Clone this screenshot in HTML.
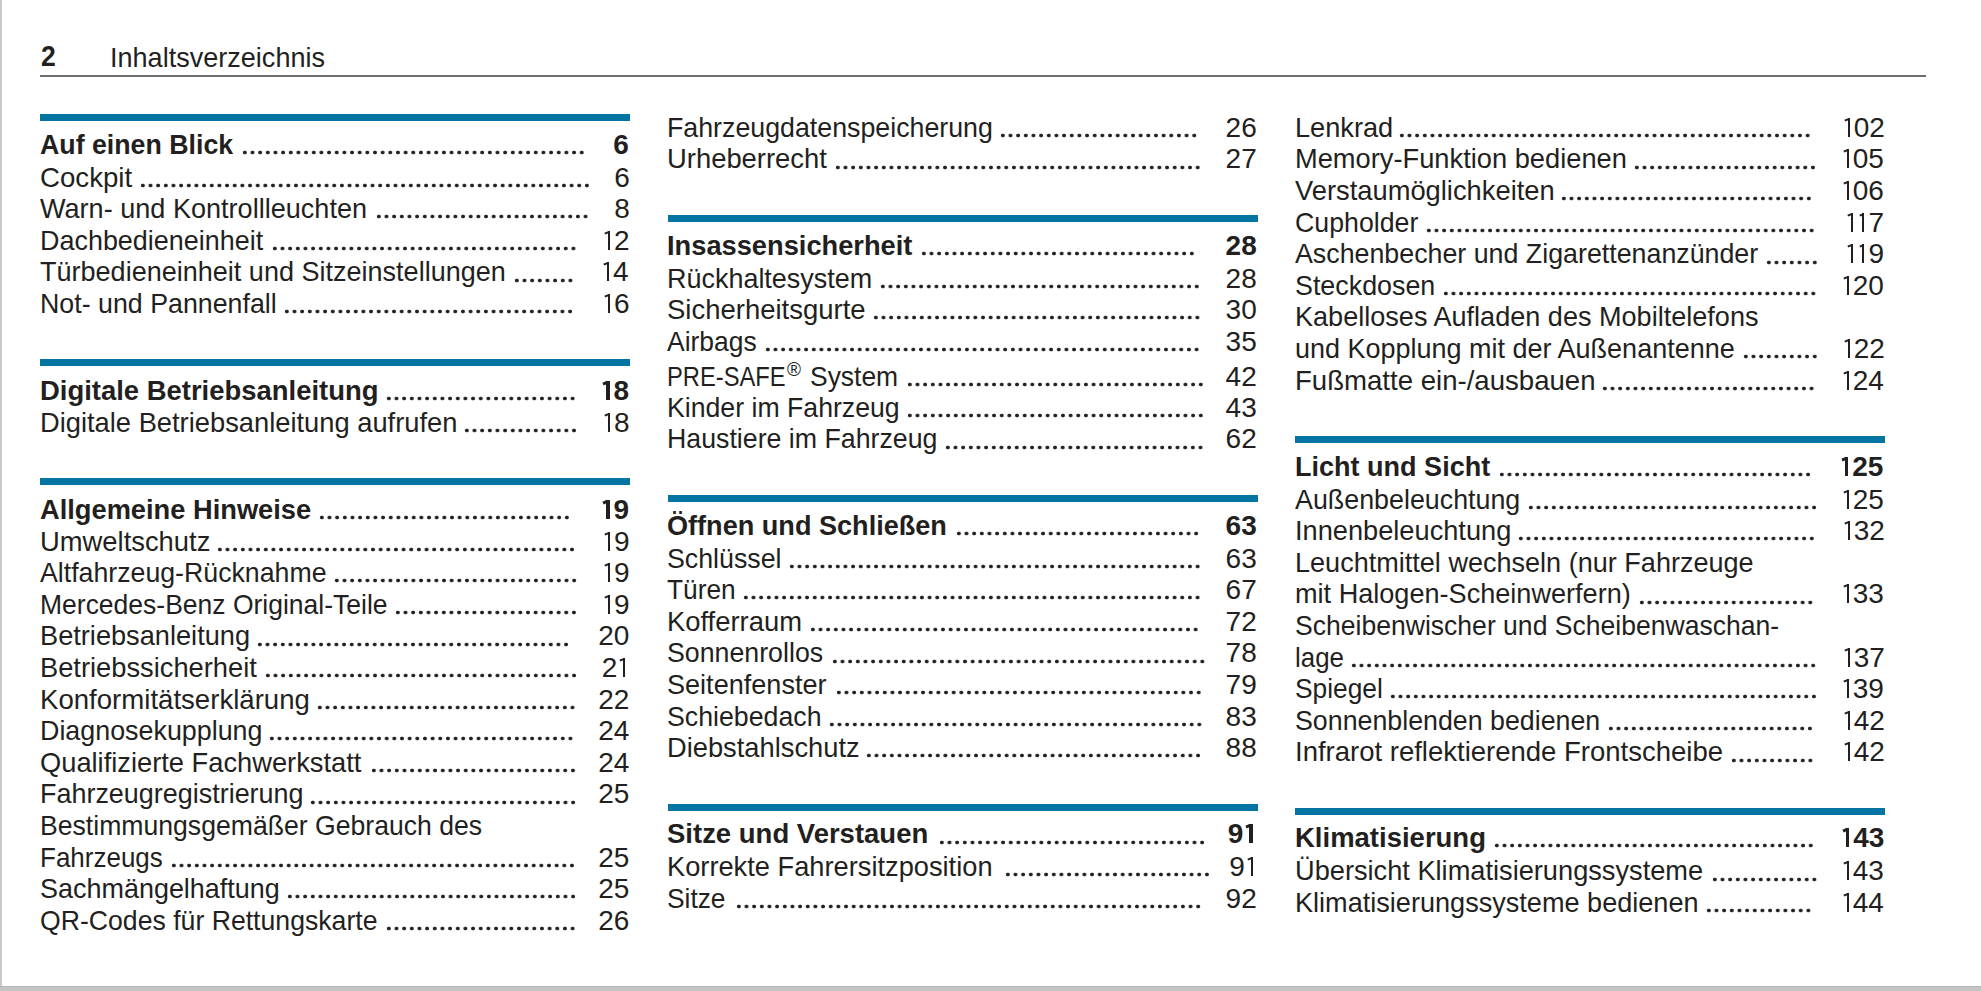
<!DOCTYPE html><html><head><meta charset="utf-8"><title>Inhaltsverzeichnis</title><style>
html,body{margin:0;padding:0}
body{width:1981px;height:991px;position:relative;overflow:hidden;background:#fff;font-family:"Liberation Sans",sans-serif;color:#231f20}
.t,.n{position:absolute;font-size:28px;line-height:28px;white-space:pre;transform-origin:0 0}
.n{transform-origin:100% 0}
.b{font-weight:bold}
.one{display:inline-block;position:relative;width:11.8px;height:19.5px}
.one::before{content:"";position:absolute;left:5.7px;top:0;width:2px;height:19.5px;background:#231f20}
.one::after{content:"";position:absolute;left:1.9px;top:0.6px;width:4.4px;height:1.9px;background:#231f20;transform:rotate(-24deg);transform-origin:100% 0}
.b .one{width:13.3px}
.b .one::before{left:5.5px;width:3.9px}
.b .one::after{left:1.5px;width:4.6px;height:2.9px;top:0.2px}
.reg{font-size:19px;position:relative;top:-10px;margin-left:-1px;margin-right:0px}
.bar{position:absolute;height:7px;width:590px;background:#0474a2}
.ld{position:absolute;height:5px;background-image:radial-gradient(circle at 50% 50%,#231f20 0,#231f20 1.55px,rgba(35,31,32,0) 2.2px);background-size:7.660px 5px;background-repeat:repeat-x;background-position:0 0}
</style></head><body>
<div style="position:absolute;left:0;top:0;width:2px;height:991px;background:#c9c9c9"></div>
<div style="position:absolute;left:0;top:986px;width:1981px;height:5px;background:#c4c4c4"></div>
<div style="position:absolute;left:0;top:986px;width:1981px;height:1px;background:#b4b4b4"></div>
<div class="t b" style="left:41px;top:42px;font-size:29.5px;transform:scaleX(0.9)">2</div>
<div class="t" id="hdr" style="left:109.6px;top:44px;transform:scaleX(0.9662)">Inhaltsverzeichnis</div>
<div style="position:absolute;left:40px;top:75px;width:1886px;height:2px;background:#6e6e6e"></div>
<div class="bar" style="left:40.0px;top:114.0px"></div>
<div class="bar" style="left:40.0px;top:359.3px"></div>
<div class="bar" style="left:40.0px;top:478.3px"></div>
<div class="bar" style="left:667.5px;top:215.0px"></div>
<div class="bar" style="left:667.5px;top:495.0px"></div>
<div class="bar" style="left:667.5px;top:803.5px"></div>
<div class="bar" style="left:1295.3px;top:436.0px"></div>
<div class="bar" style="left:1295.3px;top:807.9px"></div>
<div class="t b" style="left:39.60px;top:131px;transform:scaleX(0.9550)">Auf einen Blick</div>
<div class="n b" style="right:1352.22px;top:131px">6</div>
<div class="ld" style="left:240.83px;top:149.8px;width:344.69px"></div>
<div class="t" style="left:39.60px;top:164px;transform:scaleX(0.9871)">Cockpit</div>
<div class="n" style="right:1351.22px;top:164px">6</div>
<div class="ld" style="left:138.69px;top:182.8px;width:451.93px"></div>
<div class="t" style="left:39.60px;top:195px;transform:scaleX(0.9668)">Warn- und Kontrollleuchten</div>
<div class="n" style="right:1351.22px;top:195px">8</div>
<div class="ld" style="left:374.55px;top:214.4px;width:214.47px"></div>
<div class="t" style="left:39.60px;top:227px;transform:scaleX(0.9621)">Dachbedieneinheit</div>
<div class="n" style="right:1351.42px;top:227px"><span class="one"></span>2</div>
<div class="ld" style="left:270.53px;top:246.0px;width:306.39px"></div>
<div class="t" style="left:39.60px;top:258px;transform:scaleX(0.9653)">Türbedieneinheit und Sitzeinstellungen</div>
<div class="n" style="right:1352.42px;top:258px"><span class="one"></span>4</div>
<div class="ld" style="left:513.25px;top:277.6px;width:61.27px"></div>
<div class="t" style="left:39.60px;top:290px;transform:scaleX(0.9565)">Not- und Pannenfall</div>
<div class="n" style="right:1351.42px;top:290px"><span class="one"></span>6</div>
<div class="ld" style="left:283.45px;top:309.2px;width:291.07px"></div>
<div class="t b" style="left:39.60px;top:377px;transform:scaleX(0.9799)">Digitale Betriebsanleitung</div>
<div class="n b" style="right:1351.92px;top:377px"><span class="one"></span>8</div>
<div class="ld" style="left:385.43px;top:396.0px;width:191.49px"></div>
<div class="t" style="left:39.60px;top:409px;transform:scaleX(0.9751)">Digitale Betriebsanleitung aufrufen</div>
<div class="n" style="right:1351.42px;top:409px"><span class="one"></span>8</div>
<div class="ld" style="left:462.83px;top:428.0px;width:114.89px"></div>
<div class="t b" style="left:39.60px;top:496px;transform:scaleX(0.9734)">Allgemeine Hinweise</div>
<div class="n b" style="right:1351.92px;top:496px"><span class="one"></span>9</div>
<div class="ld" style="left:317.95px;top:515.0px;width:252.77px"></div>
<div class="t" style="left:39.60px;top:528px;transform:scaleX(0.9775)">Umweltschutz</div>
<div class="n" style="right:1351.42px;top:528px"><span class="one"></span>9</div>
<div class="ld" style="left:216.11px;top:546.8px;width:360.01px"></div>
<div class="t" style="left:39.60px;top:559px;transform:scaleX(0.9538)">Altfahrzeug-Rücknahme</div>
<div class="n" style="right:1351.42px;top:559px"><span class="one"></span>9</div>
<div class="ld" style="left:332.81px;top:578.4px;width:245.11px"></div>
<div class="t" style="left:39.60px;top:591px;transform:scaleX(0.9462)">Mercedes-Benz Original-Teile</div>
<div class="n" style="right:1351.42px;top:591px"><span class="one"></span>9</div>
<div class="ld" style="left:394.09px;top:610.0px;width:183.83px"></div>
<div class="t" style="left:39.60px;top:622px;transform:scaleX(0.9707)">Betriebsanleitung</div>
<div class="n" style="right:1351.64px;top:622px">20</div>
<div class="ld" style="left:256.47px;top:641.6px;width:314.05px"></div>
<div class="t" style="left:39.60px;top:654px;transform:scaleX(0.9743)">Betriebssicherheit</div>
<div class="n" style="right:1351.80px;top:654px">2<span class="one"></span></div>
<div class="ld" style="left:264.07px;top:673.2px;width:314.05px"></div>
<div class="t" style="left:39.60px;top:686px;transform:scaleX(0.9853)">Konformitätserklärung</div>
<div class="n" style="right:1351.64px;top:686px">22</div>
<div class="ld" style="left:315.69px;top:704.8px;width:260.43px"></div>
<div class="t" style="left:39.60px;top:717px;transform:scaleX(0.9591)">Diagnosekupplung</div>
<div class="n" style="right:1351.64px;top:717px">24</div>
<div class="ld" style="left:268.13px;top:736.4px;width:306.39px"></div>
<div class="t" style="left:39.60px;top:749px;transform:scaleX(0.9742)">Qualifizierte Fachwerkstatt</div>
<div class="n" style="right:1351.64px;top:749px">24</div>
<div class="ld" style="left:369.61px;top:768.0px;width:206.81px"></div>
<div class="t" style="left:39.60px;top:780px;transform:scaleX(0.9621)">Fahrzeugregistrierung</div>
<div class="n" style="right:1351.64px;top:780px">25</div>
<div class="ld" style="left:309.43px;top:799.6px;width:268.09px"></div>
<div class="t" style="left:39.60px;top:812px;transform:scaleX(0.9502)">Bestimmungsgemäßer Gebrauch des</div>
<div class="t" style="left:39.60px;top:844px;transform:scaleX(0.9282)">Fahrzeugs</div>
<div class="n" style="right:1351.64px;top:844px">25</div>
<div class="ld" style="left:169.55px;top:862.8px;width:405.97px"></div>
<div class="t" style="left:39.60px;top:875px;transform:scaleX(0.9628)">Sachmängelhaftung</div>
<div class="n" style="right:1351.64px;top:875px">25</div>
<div class="ld" style="left:285.75px;top:894.4px;width:291.07px"></div>
<div class="t" style="left:39.60px;top:907px;transform:scaleX(0.9511)">QR-Codes für Rettungskarte</div>
<div class="n" style="right:1351.64px;top:907px">26</div>
<div class="ld" style="left:384.83px;top:926.0px;width:191.49px"></div>
<div class="t" style="left:667.10px;top:114px;transform:scaleX(0.9558)">Fahrzeugdatenspeicherung</div>
<div class="n" style="right:724.24px;top:114px">26</div>
<div class="ld" style="left:999.27px;top:132.9px;width:199.15px"></div>
<div class="t" style="left:667.10px;top:145px;transform:scaleX(0.9785)">Urheberrecht</div>
<div class="n" style="right:724.24px;top:145px">27</div>
<div class="ld" style="left:834.25px;top:164.7px;width:367.67px"></div>
<div class="t b" style="left:667.10px;top:232px;transform:scaleX(0.9734)">Insassensicherheit</div>
<div class="n b" style="right:724.24px;top:232px">28</div>
<div class="ld" style="left:920.27px;top:251.0px;width:275.75px"></div>
<div class="t" style="left:667.10px;top:265px;transform:scaleX(0.9626)">Rückhaltesystem</div>
<div class="n" style="right:724.24px;top:265px">28</div>
<div class="ld" style="left:879.01px;top:283.7px;width:321.71px"></div>
<div class="t" style="left:667.10px;top:296px;transform:scaleX(0.9816)">Sicherheitsgurte</div>
<div class="n" style="right:724.24px;top:296px">30</div>
<div class="ld" style="left:872.05px;top:315.3px;width:329.37px"></div>
<div class="t" style="left:667.10px;top:328px;transform:scaleX(0.9447)">Airbags</div>
<div class="n" style="right:724.24px;top:328px">35</div>
<div class="ld" style="left:763.51px;top:346.9px;width:436.61px"></div>
<div class="t" style="left:667.11px;top:363px;transform:scaleX(0.8467)">PRE-SAFE</div>
<div class="t" style="left:786.8px;top:355px;font-size:20px;transform:scaleX(0.95)">®</div>
<div class="t" style="left:810.46px;top:363px;transform:scaleX(0.9440)">System</div>
<div class="n" style="right:724.24px;top:363px">42</div>
<div class="ld" style="left:905.89px;top:381.8px;width:298.73px"></div>
<div class="t" style="left:667.10px;top:394px;transform:scaleX(0.9523)">Kinder im Fahrzeug</div>
<div class="n" style="right:724.24px;top:394px">43</div>
<div class="ld" style="left:905.89px;top:412.8px;width:298.73px"></div>
<div class="t" style="left:667.10px;top:425px;transform:scaleX(0.9550)">Haustiere im Fahrzeug</div>
<div class="n" style="right:724.24px;top:425px">62</div>
<div class="ld" style="left:944.19px;top:444.6px;width:260.43px"></div>
<div class="t b" style="left:667.10px;top:512px;transform:scaleX(0.9674)">Öffnen und Schließen</div>
<div class="n b" style="right:724.24px;top:512px">63</div>
<div class="ld" style="left:955.01px;top:531.2px;width:245.11px"></div>
<div class="t" style="left:667.10px;top:545px;transform:scaleX(0.9559)">Schlüssel</div>
<div class="n" style="right:724.24px;top:545px">63</div>
<div class="ld" style="left:788.09px;top:563.7px;width:413.63px"></div>
<div class="t" style="left:667.10px;top:576px;transform:scaleX(0.9380)">Türen</div>
<div class="n" style="right:724.24px;top:576px">67</div>
<div class="ld" style="left:742.13px;top:595.3px;width:459.59px"></div>
<div class="t" style="left:667.10px;top:608px;transform:scaleX(0.9779)">Kofferraum</div>
<div class="n" style="right:724.24px;top:608px">72</div>
<div class="ld" style="left:809.47px;top:626.9px;width:390.65px"></div>
<div class="t" style="left:667.10px;top:639px;transform:scaleX(0.9552)">Sonnenrollos</div>
<div class="n" style="right:724.24px;top:639px">78</div>
<div class="ld" style="left:830.89px;top:658.5px;width:375.33px"></div>
<div class="t" style="left:667.10px;top:671px;transform:scaleX(0.9667)">Seitenfenster</div>
<div class="n" style="right:724.24px;top:671px">79</div>
<div class="ld" style="left:834.55px;top:690.1px;width:367.67px"></div>
<div class="t" style="left:667.10px;top:703px;transform:scaleX(0.9544)">Schiebedach</div>
<div class="n" style="right:724.24px;top:703px">83</div>
<div class="ld" style="left:827.59px;top:721.7px;width:375.33px"></div>
<div class="t" style="left:667.10px;top:734px;transform:scaleX(0.9745)">Diebstahlschutz</div>
<div class="n" style="right:724.24px;top:734px">88</div>
<div class="ld" style="left:865.19px;top:753.3px;width:337.03px"></div>
<div class="t b" style="left:667.10px;top:820px;transform:scaleX(0.9818)">Sitze und Verstauen</div>
<div class="n b" style="right:724.40px;top:820px">9<span class="one"></span></div>
<div class="ld" style="left:937.93px;top:839.6px;width:268.09px"></div>
<div class="t" style="left:667.10px;top:853px;transform:scaleX(0.9730)">Korrekte Fahrersitzposition</div>
<div class="n" style="right:724.40px;top:853px">9<span class="one"></span></div>
<div class="ld" style="left:1003.61px;top:872.3px;width:206.81px"></div>
<div class="t" style="left:667.10px;top:885px;transform:scaleX(0.9393)">Sitze</div>
<div class="n" style="right:724.24px;top:885px">92</div>
<div class="ld" style="left:734.97px;top:903.9px;width:467.25px"></div>
<div class="t" style="left:1294.90px;top:114px;transform:scaleX(0.9707)">Lenkrad</div>
<div class="n" style="right:96.05px;top:114px"><span class="one"></span>02</div>
<div class="ld" style="left:1398.29px;top:133.1px;width:413.63px"></div>
<div class="t" style="left:1294.90px;top:145px;transform:scaleX(0.9737)">Memory-Funktion bedienen</div>
<div class="n" style="right:97.05px;top:145px"><span class="one"></span>05</div>
<div class="ld" style="left:1633.19px;top:164.7px;width:183.83px"></div>
<div class="t" style="left:1294.90px;top:177px;transform:scaleX(0.9758)">Verstaumöglichkeiten</div>
<div class="n" style="right:97.05px;top:177px"><span class="one"></span>06</div>
<div class="ld" style="left:1560.25px;top:196.3px;width:252.77px"></div>
<div class="t" style="left:1294.90px;top:209px;transform:scaleX(0.9543)">Cupholder</div>
<div class="n" style="right:96.83px;top:209px"><span class="one"></span><span class="one"></span>7</div>
<div class="ld" style="left:1425.47px;top:227.9px;width:390.65px"></div>
<div class="t" style="left:1294.90px;top:240px;transform:scaleX(0.9568)">Aschenbecher und Zigarettenanzünder</div>
<div class="n" style="right:96.83px;top:240px"><span class="one"></span><span class="one"></span>9</div>
<div class="ld" style="left:1765.21px;top:259.5px;width:53.61px"></div>
<div class="t" style="left:1294.90px;top:272px;transform:scaleX(0.9586)">Steckdosen</div>
<div class="n" style="right:97.05px;top:272px"><span class="one"></span>20</div>
<div class="ld" style="left:1441.69px;top:291.1px;width:375.33px"></div>
<div class="t" style="left:1294.90px;top:303px;transform:scaleX(0.9668)">Kabelloses Aufladen des Mobiltelefons</div>
<div class="t" style="left:1294.90px;top:335px;transform:scaleX(0.9640)">und Kopplung mit der Außenantenne</div>
<div class="n" style="right:96.05px;top:335px"><span class="one"></span>22</div>
<div class="ld" style="left:1742.23px;top:354.3px;width:76.59px"></div>
<div class="t" style="left:1294.90px;top:367px;transform:scaleX(0.9851)">Fußmatte ein-/ausbauen</div>
<div class="n" style="right:97.05px;top:367px"><span class="one"></span>24</div>
<div class="ld" style="left:1601.45px;top:385.9px;width:214.47px"></div>
<div class="t b" style="left:1294.90px;top:453px;transform:scaleX(0.9653)">Licht und Sicht</div>
<div class="n b" style="right:97.55px;top:453px"><span class="one"></span>25</div>
<div class="ld" style="left:1498.07px;top:472.2px;width:314.05px"></div>
<div class="t" style="left:1294.90px;top:486px;transform:scaleX(0.9584)">Außenbeleuchtung</div>
<div class="n" style="right:97.05px;top:486px"><span class="one"></span>25</div>
<div class="ld" style="left:1526.65px;top:504.8px;width:291.07px"></div>
<div class="t" style="left:1294.90px;top:517px;transform:scaleX(0.9715)">Innenbeleuchtung</div>
<div class="n" style="right:96.05px;top:517px"><span class="one"></span>32</div>
<div class="ld" style="left:1516.79px;top:536.4px;width:298.73px"></div>
<div class="t" style="left:1294.90px;top:549px;transform:scaleX(0.9662)">Leuchtmittel wechseln (nur Fahrzeuge</div>
<div class="t" style="left:1294.90px;top:580px;transform:scaleX(0.9675)">mit Halogen-Scheinwerfern)</div>
<div class="n" style="right:97.05px;top:580px"><span class="one"></span>33</div>
<div class="ld" style="left:1637.95px;top:599.6px;width:176.17px"></div>
<div class="t" style="left:1294.90px;top:612px;transform:scaleX(0.9483)">Scheibenwischer und Scheibenwaschan-</div>
<div class="t" style="left:1294.90px;top:644px;transform:scaleX(0.9250)">lage</div>
<div class="n" style="right:96.05px;top:644px"><span class="one"></span>37</div>
<div class="ld" style="left:1350.27px;top:662.8px;width:467.25px"></div>
<div class="t" style="left:1294.90px;top:675px;transform:scaleX(0.9402)">Spiegel</div>
<div class="n" style="right:97.05px;top:675px"><span class="one"></span>39</div>
<div class="ld" style="left:1388.57px;top:694.4px;width:428.95px"></div>
<div class="t" style="left:1294.90px;top:707px;transform:scaleX(0.9563)">Sonnenblenden bedienen</div>
<div class="n" style="right:96.05px;top:707px"><span class="one"></span>42</div>
<div class="ld" style="left:1607.31px;top:726.0px;width:206.81px"></div>
<div class="t" style="left:1294.90px;top:738px;transform:scaleX(0.9821)">Infrarot reflektierende Frontscheibe</div>
<div class="n" style="right:96.05px;top:738px"><span class="one"></span>42</div>
<div class="ld" style="left:1730.27px;top:757.6px;width:84.25px"></div>
<div class="t b" style="left:1294.90px;top:824px;transform:scaleX(0.9819)">Klimatisierung</div>
<div class="n b" style="right:96.55px;top:824px"><span class="one"></span>43</div>
<div class="ld" style="left:1492.51px;top:843.4px;width:321.71px"></div>
<div class="t" style="left:1294.90px;top:857px;transform:scaleX(0.9714)">Übersicht Klimatisierungssysteme</div>
<div class="n" style="right:97.05px;top:857px"><span class="one"></span>43</div>
<div class="ld" style="left:1711.09px;top:876.7px;width:107.23px"></div>
<div class="t" style="left:1294.90px;top:889px;transform:scaleX(0.9675)">Klimatisierungssysteme bedienen</div>
<div class="n" style="right:97.05px;top:889px"><span class="one"></span>44</div>
<div class="ld" style="left:1705.49px;top:908.1px;width:107.23px"></div>
</body></html>
